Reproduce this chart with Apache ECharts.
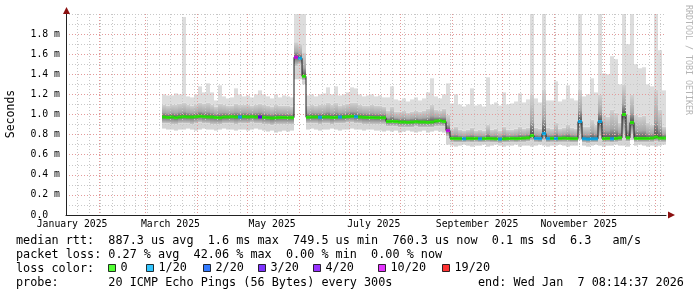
<!DOCTYPE html>
<html><head><meta charset="utf-8">
<script src="https://cdn.jsdelivr.net/npm/echarts@6.0.0/dist/echarts.min.js"></script>
<style>html,body{margin:0;padding:0;background:#fff}#c{width:697px;height:297px}</style>
</head><body><div id="c"></div>
<script>
// Time is expressed in days since 2025-01-01 00:00
const viewStartDay = 11.34;   // Sun Jan 12 2025 08:14 (end - 360 days)
const viewEndDay = 371.34;    // Wed Jan 7 2026 08:14:37
const binDays = 2.4;          // width of one consolidated column
const dataStartDay = 69.0;    // first measurement (Mar 11 2025)

const monthDays = [31, 59, 90, 120, 151, 181, 212, 243, 273, 304, 334, 365];
const labelDays = [15, 74, 135, 196, 258, 319];
const labelNames = ['January 2025', 'March 2025', 'May 2025', 'July 2025', 'September 2025', 'November 2025'];
const yTicks = [0, 0.2, 0.4, 0.6, 0.8, 1.0, 1.2, 1.4, 1.6, 1.8];

// median rtt per column (ms)
const med = [
 0.975,0.970,0.975,0.968,0.975,0.978,0.975,0.975,0.978,0.982,
 0.978,0.975,0.975,0.970,0.968,0.975,0.975,0.978,0.975,0.975,
 0.978,0.975,0.978,0.975,0.975,0.972,0.968,0.965,0.968,0.970,
 0.970,0.968,0.968,
 1.570,1.560,1.380,
 0.972,0.975,0.975,0.972,0.975,0.975,0.970,0.972,0.975,0.975,
 0.978,0.982,0.978,0.975,0.972,0.970,0.970,0.968,0.968,0.968,
 0.930,0.932,0.930,0.925,0.925,0.922,0.925,0.928,0.925,0.925,
 0.922,0.925,0.935,0.938,0.930,
 0.840,
 0.762,0.760,0.760,0.758,0.762,0.760,0.762,0.758,0.760,0.762,
 0.760,0.758,0.755,0.758,0.760,0.762,0.760,0.762,0.765,0.768,
 0.790,0.762,0.760,0.810,0.760,0.762,0.760,0.762,0.765,0.762,
 0.760,0.760,0.930,0.758,0.755,0.758,0.758,0.930,0.760,0.762,
 0.758,0.762,0.768,1.000,0.768,0.920,0.762,0.762,0.762,0.762,
 0.765,0.775,0.765,0.765
];
// lost pings (of 20) per column
const loss = [
 0,0,0,0,0,0,0,0,0,0,
 0,0,0,0,0,0,0,0,0,1,
 0,0,0,0,3,0,0,0,0,0,
 0,0,0,10,1,0,0,0,0,1,
 0,0,0,0,1,0,0,0,1,0,
 0,0,0,0,0,0,0,0,0,0,
 0,0,0,0,0,0,0,0,0,0,
 0,10,0,0,0,1,0,0,0,1,
 0,0,0,0,1,0,0,0,0,0,
 0,0,0,1,1,1,1,0,1,0,
 0,0,0,0,1,1,1,1,1,1,
 0,0,1,0,0,0,0,0,0,0,
 0,0,0,0,0,0
];
// lowest ping
const lo = [
 0.86,0.85,0.85,0.84,0.85,0.85,0.86,0.85,0.84,0.85,
 0.86,0.85,0.85,0.84,0.85,0.86,0.85,0.85,0.84,0.85,
 0.85,0.84,0.85,0.86,0.85,0.84,0.83,0.84,0.82,0.83,
 0.84,0.83,0.84,
 1.35,1.35,1.30,
 0.85,0.86,0.85,0.84,0.85,0.85,0.86,0.85,0.84,0.85,
 0.85,0.86,0.85,0.85,0.84,0.85,0.85,0.84,0.84,0.83,
 0.84,0.83,0.84,0.82,0.83,0.84,0.83,0.82,0.83,0.84,
 0.82,0.83,0.84,0.83,0.82,
 0.70,
 0.69,0.68,0.69,0.70,0.69,0.68,0.69,0.69,0.70,0.68,
 0.69,0.70,0.69,0.68,0.69,0.69,0.70,0.68,0.69,0.69,
 0.68,0.69,0.70,0.69,0.68,0.69,0.69,0.70,0.69,0.68,
 0.69,0.69,0.745,0.69,0.68,0.69,0.70,0.69,0.68,0.69,
 0.69,0.70,0.69,0.69,0.68,0.745,0.69,0.70,0.69,0.68,
 0.69,0.68,0.69,0.70
];
// lower edge of the dense smoke
const q1 = [
 0.91,0.91,0.90,0.90,0.91,0.91,0.91,0.90,0.91,0.92,
 0.91,0.91,0.90,0.90,0.90,0.91,0.91,0.91,0.90,0.91,
 0.91,0.91,0.92,0.91,0.91,0.90,0.90,0.89,0.90,0.90,
 0.90,0.90,0.90,
 1.48,1.50,1.34,
 0.91,0.91,0.91,0.90,0.91,0.91,0.90,0.91,0.91,0.91,
 0.92,0.92,0.91,0.91,0.90,0.90,0.90,0.90,0.90,0.90,
 0.88,0.88,0.88,0.87,0.87,0.87,0.87,0.88,0.87,0.87,
 0.87,0.87,0.88,0.88,0.88,
 0.78,
 0.725,0.72,0.72,0.72,0.725,0.72,0.725,0.72,0.72,0.725,
 0.72,0.72,0.715,0.72,0.72,0.725,0.72,0.725,0.725,0.73,
 0.74,0.725,0.72,0.74,0.72,0.725,0.72,0.725,0.725,0.725,
 0.72,0.72,0.80,0.72,0.715,0.72,0.72,0.78,0.72,0.725,
 0.72,0.725,0.73,0.80,0.73,0.80,0.725,0.725,0.725,0.725,
 0.725,0.735,0.725,0.725
];
// upper edge of the dense smoke
const q3 = [
 1.10,1.09,1.10,1.10,1.11,1.12,1.10,1.09,1.10,1.12,
 1.11,1.12,1.10,1.08,1.11,1.10,1.09,1.09,1.11,1.10,
 1.10,1.10,1.09,1.10,1.11,1.10,1.09,1.08,1.10,1.09,
 1.09,1.09,1.08,
 1.72,1.70,1.62,
 1.09,1.10,1.09,1.10,1.10,1.12,1.10,1.12,1.09,1.10,
 1.11,1.12,1.12,1.10,1.09,1.09,1.10,1.09,1.09,1.08,
 1.04,1.08,1.03,1.03,1.04,1.02,1.03,1.04,1.03,1.04,
 1.06,1.10,1.05,1.04,1.06,
 1.00,
 0.86,0.88,0.85,0.84,0.85,0.87,0.84,0.85,0.84,0.90,
 0.85,0.86,0.84,0.88,0.85,0.85,0.86,0.88,0.86,0.87,
 1.20,0.87,0.86,1.25,0.87,0.86,0.92,0.86,0.87,0.90,
 0.87,0.86,1.25,0.88,0.88,0.95,0.90,1.20,1.00,0.98,
 1.05,1.02,0.92,1.30,1.00,1.20,1.00,0.98,0.99,0.92,
 0.90,1.25,1.05,0.88
];
// highest ping
const hi = [
 1.20,1.19,1.19,1.21,1.20,1.97,1.18,1.17,1.20,1.28,
 1.22,1.31,1.22,1.14,1.29,1.18,1.16,1.17,1.26,1.20,
 1.18,1.19,1.17,1.20,1.24,1.20,1.18,1.16,1.20,1.17,
 1.19,1.18,1.17,
 2.00,2.00,2.00,
 1.19,1.20,1.18,1.20,1.21,1.27,1.20,1.28,1.19,1.20,
 1.22,1.27,1.26,1.20,1.18,1.19,1.20,1.18,1.19,1.17,
 1.17,1.28,1.15,1.14,1.16,1.13,1.15,1.17,1.14,1.16,
 1.22,1.36,1.18,1.16,1.20,
 1.31,
 1.11,1.20,1.10,1.08,1.10,1.26,1.09,1.10,1.08,1.37,
 1.10,1.12,1.09,1.22,1.10,1.11,1.13,1.21,1.12,1.15,
 2.00,1.16,1.12,2.00,1.14,1.14,1.33,1.13,1.15,1.29,
 1.16,1.14,2.00,1.18,1.20,1.36,1.22,2.00,1.41,1.40,
 1.58,1.55,1.30,2.00,1.70,2.00,1.50,1.46,1.47,1.30,
 1.28,2.00,1.64,1.24
];

const lossBuckets = [0, 1, 2, 3, 4, 10, 19];
const lossNames = ['0', '1/20', '2/20', '3/20', '4/20', '10/20', '19/20'];
const lossColors = ['#26ff00', '#00b8ff', '#0059ff', '#5e00ff', '#7e00ff', '#dd00ff', '#ff0000'];

const legendText = {
  rtt: 'median rtt:  887.3 us avg  1.6 ms max  749.5 us min  760.3 us now  0.1 ms sd  6.3   am/s',
  loss: 'packet loss: 0.27 % avg  42.06 % max  0.00 % min  0.00 % now',
  color: 'loss color:',
  probe: 'probe:       20 ICMP Echo Pings (56 Bytes) every 300s',
  end: 'end: Wed Jan  7 08:14:37 2026'
};

// ---------- build ----------
const binCount = Math.round((viewEndDay - viewStartDay) / binDays);
const bins = [];
for (let i = 0; i < binCount; i++) bins.push((viewStartDay + i * binDays).toFixed(2));
const pad = Math.floor((dataStartDay - viewStartDay) / binDays);
const full = a => new Array(pad).fill(null).concat(a);
const M = full(med), L = full(lo), Q1 = full(q1), Q3 = full(q3), H = full(hi), LS = full(loss);
const diff = (a, b) => a.map((v, i) => v == null ? '-' : +(v - b[i]).toFixed(4));
const weekDays = [];
for (let d = 18; d < viewEndDay; d += 7) weekDays.push(d);

const MONO = '"DejaVu Sans Mono"';
const colW = 600 / binCount;
const G = echarts.graphic.LinearGradient;

const bandBase = {type: 'bar', stack: 'smoke', xAxisIndex: 0, yAxisIndex: 0, barCategoryGap: '0%', silent: true, animation: false};

const series = [
  Object.assign({}, bandBase, {name: 'lo', data: L.map(v => v == null ? '-' : v), itemStyle: {color: 'rgba(0,0,0,0)'}}),
  Object.assign({}, bandBase, {name: 'lo-q1', data: diff(Q1, L), itemStyle: {color: '#d4d4d4'}}),
  Object.assign({}, bandBase, {name: 'q1-med', data: diff(M, Q1), itemStyle: {color: new G(0, 0, 0, 1, [
    {offset: 0, color: '#4a4a4a'}, {offset: 0.3, color: '#8c8c8c'}, {offset: 1, color: '#cdcdcd'}])}}),
  Object.assign({}, bandBase, {name: 'med-q3', data: diff(Q3, M), itemStyle: {color: new G(0, 0, 0, 1, [
    {offset: 0, color: '#d2d2d2'}, {offset: 0.65, color: '#a8a8a8'}, {offset: 1, color: '#505050'}])}}),
  Object.assign({}, bandBase, {name: 'q3-hi', data: diff(H, Q3), itemStyle: {color: '#dddddd'}}),
  {type: 'line', name: 'median', data: M.map(v => v == null ? '-' : v), step: 'middle', showSymbol: false, symbol: 'none',
   lineStyle: {color: '#1a1a1a', width: 1}, z: 5, silent: true, animation: false, connectNulls: false}
];
const bucketOf = n => { let b = 0; for (let k = 0; k < lossBuckets.length; k++) if (n >= lossBuckets[k]) b = k; return b; };
lossNames.forEach((name, k) => {
  const pts = [];
  M.forEach((v, i) => { if (v != null && bucketOf(LS[i]) === k) pts.push([i, v]); });
  series.push({type: 'scatter', name: name, data: pts, symbol: 'rect', symbolSize: [colW, 3],
    itemStyle: {color: lossColors[k]}, z: 6, silent: true, animation: false});
});

const legendLefts = [108, 146, 203, 258, 313, 378, 442];
const legends = lossNames.map((n, k) => ({
  data: [n], left: legendLefts[k], top: 262, padding: 0, icon: 'rect', itemWidth: 7, itemHeight: 7,
  itemStyle: {borderColor: '#000', borderWidth: 1}, selectedMode: false,
  textStyle: {fontFamily: MONO, fontSize: 11.8, color: '#000'}
}));

const gridDash = [1, 2];
const option = {
  backgroundColor: '#fff',
  animation: false,
  textStyle: {fontFamily: MONO},
  grid: {left: 66, right: 31, top: 14, bottom: 82, containLabel: false},
  legend: legends,
  xAxis: [
    {type: 'category', data: bins, boundaryGap: true, show: false},
    {type: 'value', min: viewStartDay, max: viewEndDay, position: 'bottom', z: 8,
     axisLine: {show: true, onZero: false, lineStyle: {color: '#222', width: 1}},
     axisTick: {show: false, customValues: labelDays},
     axisLabel: {customValues: labelDays, margin: 4, fontFamily: MONO, fontSize: 9.8, color: '#000',
       formatter: v => { const i = labelDays.findIndex(d => Math.abs(d - v) < 0.01); return i >= 0 ? labelNames[i] : ''; }},
     splitLine: {show: false}},
    {type: 'value', min: viewStartDay, max: viewEndDay, position: 'bottom', z: 3,
     axisLine: {show: false}, axisTick: {show: false, customValues: weekDays}, axisLabel: {show: false},
     splitLine: {show: true, lineStyle: {color: '#c8c8c8', width: 1, type: gridDash}}},
    {type: 'value', min: viewStartDay, max: viewEndDay, position: 'bottom', z: 4,
     axisLine: {show: false}, axisTick: {show: false, customValues: monthDays}, axisLabel: {show: false},
     splitLine: {show: true, lineStyle: {color: '#e39a9a', width: 1, type: gridDash}}}
  ],
  yAxis: [
    {type: 'value', min: 0, max: 2, interval: 0.1, position: 'left', z: 3,
     axisLine: {show: false}, axisTick: {show: false}, axisLabel: {show: false},
     splitLine: {show: true, lineStyle: {color: '#c8c8c8', width: 1, type: gridDash}}},
    {type: 'value', min: 0, max: 2, position: 'left', z: 4,
     axisLine: {show: true, lineStyle: {color: '#222', width: 1}},
     axisTick: {show: false, customValues: yTicks},
     axisLabel: {customValues: yTicks, margin: 6, fontFamily: MONO, fontSize: 9.8, color: '#000',
       formatter: v => Math.abs(v) < 1e-9 ? '0.0  ' : v.toFixed(1) + ' m'},
     splitLine: {show: true, lineStyle: {color: '#e39a9a', width: 1, type: gridDash}}}
  ],
  series: series,
  graphic: [
    {type: 'polygon', shape: {points: [[63, 14], [70, 14], [66.5, 7]]}, style: {fill: '#8b1010'}, z: 100},
    {type: 'polygon', shape: {points: [[668, 211.5], [668, 218.5], [675, 215]]}, style: {fill: '#8b1010'}, z: 100},
    {type: 'text', x: 11, y: 114, rotation: Math.PI / 2,
     style: {text: 'Seconds', font: '11.5px ' + MONO, fill: '#000', align: 'center', verticalAlign: 'middle'}},
    {type: 'text', x: 688, y: 60, rotation: -Math.PI / 2,
     style: {text: 'RRDTOOL / TOBI OETIKER', font: '8.3px ' + MONO, fill: '#b4b4b4', align: 'center', verticalAlign: 'middle'}},
    {type: 'text', x: 16, y: 241, style: {text: legendText.rtt, font: '11.8px ' + MONO, fill: '#000', verticalAlign: 'middle'}},
    {type: 'text', x: 16, y: 255, style: {text: legendText.loss, font: '11.8px ' + MONO, fill: '#000', verticalAlign: 'middle'}},
    {type: 'text', x: 16, y: 269, style: {text: legendText.color, font: '11.8px ' + MONO, fill: '#000', verticalAlign: 'middle'}},
    {type: 'text', x: 16, y: 283, style: {text: legendText.probe, font: '11.8px ' + MONO, fill: '#000', verticalAlign: 'middle'}},
    {type: 'text', x: 478, y: 283, style: {text: legendText.end, font: '11.8px ' + MONO, fill: '#000', verticalAlign: 'middle'}}
  ]
};
const chart = echarts.init(document.getElementById('c'), null, {renderer: 'canvas'});
chart.setOption(option);
</script>
</body></html>
